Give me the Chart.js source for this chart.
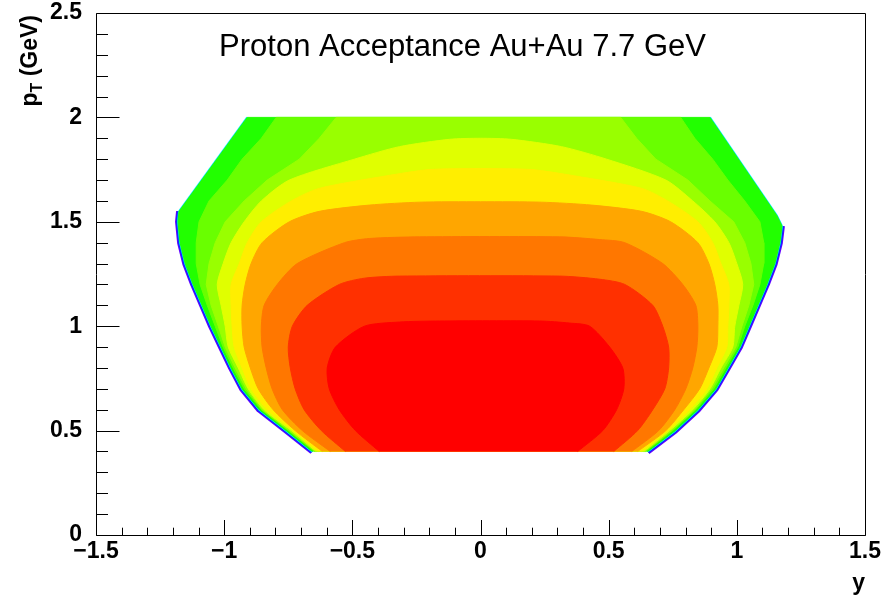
<!DOCTYPE html>
<html>
<head>
<meta charset="utf-8">
<script src="https://cdn.jsdelivr.net/npm/chart.js@4.4.1/dist/chart.umd.min.js"></script>
<style>
html,body{margin:0;padding:0;background:#fff;}
#wrap{width:883px;height:597px;}
</style>
</head>
<body>
<div id="wrap"><canvas id="c" width="883" height="597"></canvas></div>
<script>
// ---------- texts ----------
const chartTitle = 'Proton Acceptance Au+Au 7.7 GeV';
const xAxisTitle = 'y';
const yAxisTitleMain = 'p';
const yAxisTitleSub = 'T';
const yAxisTitleUnit = ' (GeV)';

// ---------- axes ----------
const xRange = [-1.5, 1.5];
const yRange = [0, 2.5];
const xTickValues = [-1.5, -1, -0.5, 0, 0.5, 1, 1.5];
const xTickLabels = ['\u22121.5', '\u22121', '\u22120.5', '0', '0.5', '1', '1.5'];
const yTickValues = [0, 0.5, 1, 1.5, 2, 2.5];
const yTickLabels = ['0', '0.5', '1', '1.5', '2', '2.5'];
const minorStep = 0.1;

// ---------- contour boundaries [rapidity y, pT] ----------
// outer acceptance edge (encloses the green band and everything inside)
const acceptanceEdge = [
  [-0.656,0.40],[-0.758,0.50],[-0.863,0.60],[-0.930,0.70],[-0.973,0.80],[-1.012,0.90],[-1.051,1.00],
  [-1.086,1.10],[-1.121,1.20],[-1.152,1.30],[-1.172,1.40],[-1.180,1.50],[-1.176,1.55],[-0.910,2.00],
  [0.895,2.00],[1.156,1.53],[1.176,1.48],[1.168,1.40],[1.148,1.30],[1.117,1.20],[1.082,1.10],
  [1.047,1.00],[1.012,0.90],[0.965,0.80],[0.918,0.70],[0.848,0.60],[0.760,0.50],[0.652,0.40]
];
const level12 = [
  [-0.648,0.40],[-0.750,0.50],[-0.855,0.60],[-0.922,0.70],[-0.965,0.80],[-1.004,0.90],[-1.035,1.00],
  [-1.066,1.10],[-1.094,1.20],[-1.109,1.30],[-1.109,1.40],[-1.098,1.50],[-1.059,1.60],[-0.988,1.70],
  [-0.930,1.80],[-0.855,1.90],[-0.797,2.00],
  [0.781,2.00],[0.836,1.90],[0.906,1.80],[0.965,1.70],[1.031,1.60],[1.090,1.50],[1.105,1.40],
  [1.105,1.30],[1.090,1.20],[1.063,1.10],[1.031,1.00],[1.004,0.90],[0.957,0.80],[0.910,0.70],
  [0.840,0.60],[0.750,0.50],[0.645,0.40]
];
const level13 = [
  [-0.645,0.40],[-0.746,0.50],[-0.852,0.60],[-0.914,0.70],[-0.957,0.80],[-0.996,0.90],[-1.023,1.00],
  [-1.051,1.10],[-1.070,1.20],[-1.059,1.30],[-1.035,1.40],[-0.996,1.50],[-0.922,1.60],[-0.832,1.70],
  [-0.707,1.80],[-0.629,1.90],[-0.563,2.00],
  [0.547,2.00],[0.609,1.90],[0.684,1.80],[0.809,1.70],[0.895,1.60],[0.988,1.50],[1.031,1.40],
  [1.055,1.30],[1.066,1.20],[1.047,1.10],[1.020,1.00],[0.996,0.90],[0.949,0.80],[0.902,0.70],
  [0.836,0.60],[0.746,0.50],[0.641,0.40]
];
const level14 = [
  [-0.641,0.40],[-0.738,0.50],[-0.844,0.60],[-0.906,0.70],[-0.945,0.80],[-0.984,0.90],[-0.996,1.00],
  [-1.012,1.10],[-1.027,1.20],[-1.004,1.30],[-0.973,1.40],[-0.922,1.50],[-0.855,1.60],[-0.746,1.70],
  [-0.492,1.80],[-0.316,1.86],[-0.121,1.895],[0.000,1.90],
  [0.121,1.895],[0.316,1.86],[0.492,1.80],[0.723,1.70],[0.828,1.60],[0.914,1.50],[0.969,1.40],
  [1.000,1.30],[1.023,1.20],[1.008,1.10],[0.992,1.00],[0.984,0.90],[0.938,0.80],[0.895,0.70],
  [0.828,0.60],[0.738,0.50],[0.637,0.40]
];
const level15 = [
  [-0.633,0.40],[-0.730,0.50],[-0.832,0.60],[-0.895,0.70],[-0.930,0.80],[-0.961,0.90],[-0.969,1.00],
  [-0.973,1.10],[-0.973,1.20],[-0.941,1.30],[-0.910,1.40],[-0.855,1.50],[-0.738,1.60],[-0.629,1.66],
  [-0.367,1.72],[-0.200,1.75],[0.000,1.755],
  [0.200,1.75],[0.367,1.72],[0.629,1.66],[0.730,1.60],[0.848,1.50],[0.906,1.40],[0.938,1.30],
  [0.969,1.20],[0.969,1.10],[0.965,1.00],[0.961,0.90],[0.922,0.80],[0.883,0.70],[0.816,0.60],
  [0.730,0.50],[0.629,0.40]
];
const level16 = [
  [-0.617,0.40],[-0.723,0.50],[-0.809,0.60],[-0.867,0.70],[-0.898,0.80],[-0.922,0.90],[-0.930,1.00],
  [-0.930,1.10],[-0.918,1.20],[-0.895,1.30],[-0.852,1.40],[-0.746,1.50],[-0.629,1.55],[-0.434,1.58],
  [-0.238,1.594],[0.000,1.596],
  [0.238,1.594],[0.434,1.58],[0.629,1.55],[0.742,1.50],[0.848,1.40],[0.891,1.30],[0.914,1.20],
  [0.926,1.10],[0.926,1.00],[0.922,0.90],[0.891,0.80],[0.855,0.70],[0.793,0.60],[0.723,0.50],[0.613,0.40]
];
const level17 = [
  [-0.586,0.40],[-0.695,0.50],[-0.773,0.60],[-0.813,0.70],[-0.836,0.80],[-0.852,0.90],[-0.855,1.00],
  [-0.844,1.10],[-0.793,1.20],[-0.715,1.30],[-0.531,1.40],[-0.434,1.42],[-0.238,1.428],
  [0.309,1.428],[0.465,1.415],[0.563,1.40],[0.711,1.30],[0.789,1.20],[0.840,1.10],[0.848,1.00],
  [0.844,0.90],[0.828,0.80],[0.801,0.70],[0.758,0.60],[0.695,0.50],[0.590,0.40]
];
const level18 = [
  [-0.527,0.40],[-0.621,0.50],[-0.688,0.60],[-0.723,0.70],[-0.742,0.80],[-0.750,0.90],[-0.734,1.00],
  [-0.676,1.10],[-0.551,1.20],[-0.453,1.23],[-0.316,1.24],
  [0.309,1.24],[0.465,1.225],[0.563,1.20],[0.672,1.10],[0.711,1.00],[0.734,0.90],[0.734,0.80],
  [0.719,0.70],[0.672,0.60],[0.613,0.50],[0.520,0.40]
];
const level19 = [
  [-0.395,0.40],[-0.488,0.50],[-0.551,0.60],[-0.590,0.70],[-0.598,0.80],[-0.566,0.90],[-0.453,1.00],
  [-0.316,1.02],[-0.160,1.025],
  [0.230,1.025],[0.348,1.015],[0.426,1.00],[0.504,0.90],[0.555,0.80],[0.559,0.70],[0.531,0.60],
  [0.477,0.50],[0.379,0.40]
];
const contourLevels = [acceptanceEdge, level12, level13, level14, level15, level16, level17, level18, level19];
const contourColors = ['#22ff00', '#69ff00', '#99ff00', '#e0ff00', '#ffee00', '#ffa600', '#ff7700', '#ff3000', '#ff0000'];
// smoothing only for the closed domes (the outer three have sharp corners at the pT = 2 cut)
const contourTension = [0, 0, 0, 0.25, 0.25, 0.25, 0.25, 0.25, 0.25];

// low-level fringe along the curved sides of the acceptance (purple / blue / cyan)
const fringeLeft = [
  [-0.656,0.40],[-0.758,0.50],[-0.863,0.60],[-0.930,0.70],[-0.973,0.80],[-1.012,0.90],[-1.051,1.00],
  [-1.086,1.10],[-1.121,1.20],[-1.152,1.30],[-1.172,1.40],[-1.180,1.50],[-1.176,1.55]
];
const fringeRight = [
  [1.176,1.48],[1.168,1.40],[1.148,1.30],[1.117,1.20],[1.082,1.10],[1.047,1.00],[1.012,0.90],
  [0.965,0.80],[0.918,0.70],[0.848,0.60],[0.760,0.50],[0.652,0.40]
];
const fringeTopLeft = [[-1.176,1.55],[-0.910,2.00]];
const fringeTopRight = [[0.895,2.00],[1.156,1.53],[1.176,1.48]];
const fringeColors = ['#6300ff', '#0030ff', '#00e8ff'];

// ---------- build datasets ----------
const toXY = arr => arr.map(p => ({x: p[0], y: p[1]}));
const datasets = [];
contourLevels.forEach((pts, i) => {
  datasets.push({
    data: toXY(pts),
    showLine: true,
    fill: 'shape',
    indexAxis: 'y',
    backgroundColor: contourColors[i],
    borderColor: contourColors[i],
    borderWidth: 1,
    pointRadius: 0,
    tension: contourTension[i],
    order: 50 - i
  });
});
const fringeWidths = [6, 4, 2];
fringeColors.forEach((col, k) => {
  [fringeLeft, fringeRight].forEach(side => {
    datasets.push({
      data: toXY(side), showLine: true, fill: false, indexAxis: 'y',
      borderColor: col, borderWidth: fringeWidths[k], pointRadius: 0, tension: 0,
      borderJoinStyle: 'round', order: 100 - k
    });
  });
});
[fringeTopLeft, fringeTopRight].forEach(side => {
  datasets.push({
    data: toXY(side), showLine: true, fill: false, indexAxis: 'y',
    borderColor: fringeColors[2], borderWidth: 2, pointRadius: 0, tension: 0, order: 90
  });
});

const FONT = '"Liberation Sans", Arial, Helvetica, sans-serif';

const rootFrame = {
  id: 'rootFrame',
  beforeDraw(chart) {
    const c = chart.ctx;
    c.save(); c.fillStyle = '#ffffff'; c.fillRect(0, 0, chart.width, chart.height); c.restore();
  },
  afterDraw(chart) {
    const c = chart.ctx, a = chart.chartArea, xs = chart.scales.x, ys = chart.scales.y;
    c.save();
    c.strokeStyle = '#000'; c.lineWidth = 1;
    const L = Math.round(a.left) + 0.5, R = Math.round(a.right) + 0.5;
    const T = Math.round(a.top) + 0.5, B = Math.round(a.bottom) + 0.5;
    c.beginPath(); c.rect(L, T, R - L, B - T); c.stroke();
    // inward ticks
    c.beginPath();
    const xMajorLen = 15.5, xMinorLen = 7.8, yMajorLen = 23, yMinorLen = 11.5;
    const nx = Math.round((xRange[1] - xRange[0]) / minorStep);
    for (let i = 0; i <= nx; i++) {
      const v = xRange[0] + i * minorStep;
      const px = Math.round(xs.getPixelForValue(v)) + 0.5;
      const major = i % 5 === 0;
      c.moveTo(px, B); c.lineTo(px, B - (major ? xMajorLen : xMinorLen));
    }
    const ny = Math.round((yRange[1] - yRange[0]) / minorStep);
    for (let i = 0; i <= ny; i++) {
      const v = yRange[0] + i * minorStep;
      const py = Math.round(ys.getPixelForValue(v)) + 0.5;
      const major = i % 5 === 0;
      c.moveTo(L, py); c.lineTo(L + (major ? yMajorLen : yMinorLen), py);
    }
    c.stroke();
    // title
    c.fillStyle = '#000';
    c.font = '31px ' + FONT;
    c.textAlign = 'center'; c.textBaseline = 'alphabetic';
    c.fillText(chartTitle, 462.5, 56);
    // x axis title
    c.font = 'bold 23px ' + FONT;
    c.textAlign = 'right';
    c.fillText(xAxisTitle, a.right, 590);
    // y axis title (rotated, ending near top of axis)
    c.translate(37, a.top + 2);
    c.rotate(-Math.PI / 2);
    c.textAlign = 'left';
    c.font = 'bold 23px ' + FONT;
    const wP = c.measureText(yAxisTitleMain).width;
    const wU = c.measureText(yAxisTitleUnit).width;
    c.font = 'bold 16px ' + FONT;
    const wT = c.measureText(yAxisTitleSub).width;
    const total = wP + wT + wU;
    c.font = 'bold 23px ' + FONT;
    c.fillText(yAxisTitleMain, -total, 0);
    c.font = 'bold 16px ' + FONT;
    c.fillText(yAxisTitleSub, -total + wP, 5);
    c.font = 'bold 23px ' + FONT;
    c.fillText(yAxisTitleUnit, -total + wP + wT, 0);
    c.restore();
  }
};

new Chart(document.getElementById('c'), {
  type: 'line',
  data: { datasets },
  options: {
    responsive: false,
    animation: false,
    devicePixelRatio: 1,
    events: [],
    layout: { padding: { left: 0, right: 18, top: 13, bottom: 0 } },
    plugins: { legend: { display: false }, tooltip: { enabled: false }, title: { display: false } },
    scales: {
      x: {
        type: 'linear', min: xRange[0], max: xRange[1],
        grid: { display: false }, border: { display: false },
        afterBuildTicks: s => { s.ticks = xTickValues.map(v => ({ value: v })); },
        afterFit: s => { s.height = 62; s.paddingLeft = 0; s.paddingRight = 0; },
        ticks: {
          autoSkip: false, maxRotation: 0, padding: -5, color: '#000',
          font: { family: FONT, size: 23, weight: 'bold' },
          callback: (v, i) => xTickLabels[i]
        }
      },
      y: {
        type: 'linear', min: yRange[0], max: yRange[1],
        grid: { display: false }, border: { display: false },
        afterBuildTicks: s => { s.ticks = yTickValues.map(v => ({ value: v })); },
        afterFit: s => { s.width = 96; s.paddingTop = 0; s.paddingBottom = 0; },
        ticks: {
          autoSkip: false, padding: 6, color: '#000',
          font: { family: FONT, size: 23, weight: 'bold' },
          callback: (v, i) => yTickLabels[i]
        }
      }
    }
  },
  plugins: [rootFrame]
});
</script>
</body>
</html>
